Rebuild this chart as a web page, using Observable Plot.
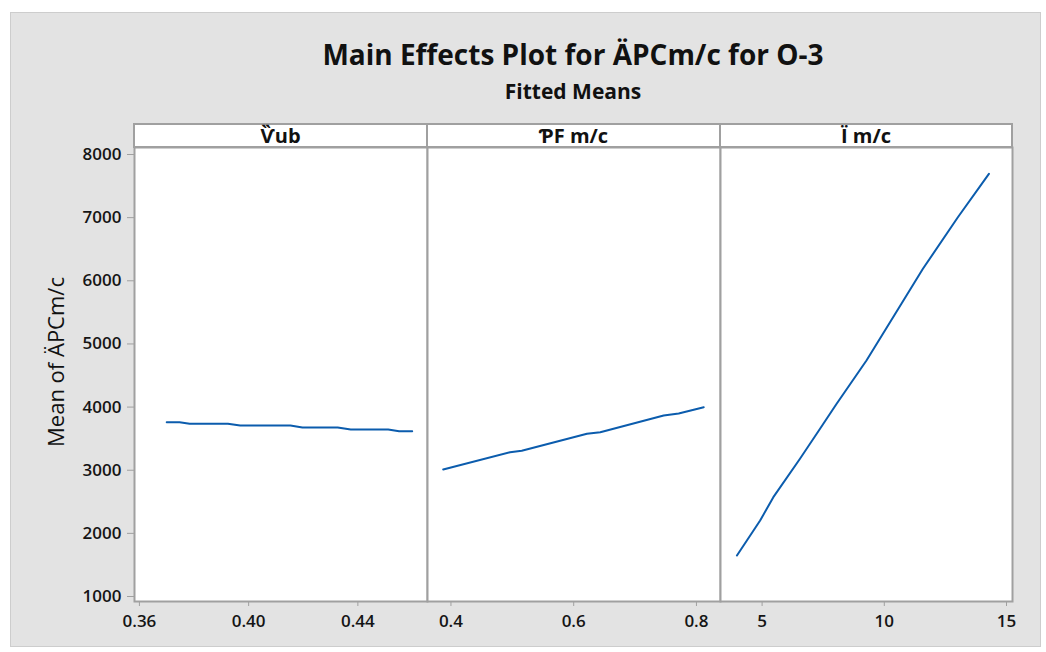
<!DOCTYPE html>
<html>
<head>
<meta charset="utf-8">
<script src="https://cdn.jsdelivr.net/npm/d3@7"></script>
<script src="https://cdn.jsdelivr.net/npm/@observablehq/plot@0.6"></script>
<style>
  html, body { margin: 0; padding: 0; background: #ffffff; width: 1046px; height: 652px; overflow: hidden; }
  body { position: relative; font-family: "Open Sans", "Noto Sans", "DejaVu Sans", sans-serif; color: #111; }
  .abs { position: absolute; }
  #bg { left: 10px; top: 12px; width: 1031px; height: 635px; background: #e3e3e3; border: 1px solid #cdcdcd; box-sizing: border-box; }
  #title { left: 134px; width: 878px; top: 38px; text-align: center; font-size: 28px; font-weight: 700; line-height: 32px; }
  #subtitle { left: 134px; width: 878px; top: 80px; text-align: center; font-size: 21px; font-weight: 700; line-height: 22px; }
  .strip { top: 123px; height: 25px; background: #fff; border: 2px solid #a0a0a0; box-sizing: border-box; text-align: center; font-size: 20px; font-weight: 700; line-height: 21px; }
  #ylabel { left: 55px; top: 362px; transform: translate(-50%, -50%) rotate(-90deg); white-space: nowrap; font-size: 22px; font-weight: 500; }
</style>
</head>
<body>
<div id="bg" class="abs"></div>
<div id="title" class="abs">Main Effects Plot for ÄPCm/c for O-3</div>
<div id="subtitle" class="abs">Fitted Means</div>
<div id="ylabel" class="abs">Mean of ÄPCm/c</div>
<div id="panels"></div>
<script>
// ---- data ----
const panelTitles = ["Ѷub", "ƤF m/c", "Ï m/c"];

const vubX = [0.3700, 0.3747, 0.3784, 0.3924, 0.3969, 0.4153, 0.4197, 0.4326, 0.4374, 0.4511, 0.4551, 0.4599];
const vubY = [3760, 3760, 3735, 3735, 3708, 3708, 3677, 3677, 3645, 3645, 3618, 3618];

const pfX = [0.3874, 0.4963, 0.5154, 0.6216, 0.6433, 0.7466, 0.7711, 0.8119];
const pfY = [3011, 3285, 3307, 3577, 3602, 3867, 3899, 3998];

const imX = [3.97, 4.92, 5.46, 6.55, 7.37, 8.05, 9.27, 10.70, 11.58, 13.01, 14.28];
const imY = [1649, 2204, 2573, 3181, 3656, 4052, 4738, 5636, 6190, 7007, 7694];

const xTicks1 = [0.36, 0.40, 0.44];
const xTicks2 = [0.4, 0.6, 0.8];
const xTicks3 = [5, 10, 15];
const yTicks = [1000, 2000, 3000, 4000, 5000, 6000, 7000, 8000];

// ---- layout ----
const bounds = [134, 427, 720, 1012];
const plotTop = 147, plotBottom = 601;
const yDomain = [921, 8111];
const lineColor = "#0b5cad";
const frameColor = "#a0a0a0";
const fontFamily = '"Open Sans", "Noto Sans", "DejaVu Sans", sans-serif';

const panels = [
  {xs: vubX, ys: vubY, domain: [0.3582, 0.4655], ticks: xTicks1, fmt: d3.format(".2f")},
  {xs: pfX, ys: pfY, domain: [0.3618, 0.8392], ticks: xTicks2, fmt: d3.format(".1f")},
  {xs: imX, ys: imY, domain: [3.298, 15.245], ticks: xTicks3, fmt: d3.format("d")}
];

const host = document.getElementById("panels");
panels.forEach((p, i) => {
  const data = p.xs.map((x, k) => ({x, y: p.ys[k]}));
  const left = bounds[i], right = bounds[i + 1];
  const mL = i === 0 ? left : 30;
  const mR = 30, mT = 10, mB = 45;
  const w = right - left;
  const marks = [
    Plot.frame({fill: "white", stroke: null}),
    Plot.line(data, {x: "x", y: "y", stroke: lineColor, strokeWidth: 2}),
    Plot.frame({stroke: frameColor, strokeWidth: 2}),
    Plot.axisX({ticks: p.ticks, tickFormat: p.fmt, tickSize: 5, tickPadding: 8, stroke: frameColor, fill: "#151515", label: null})
  ];
  if (i === 0) {
    marks.push(Plot.axisY({ticks: yTicks, tickFormat: d3.format("d"), tickSize: 7, tickPadding: 6, stroke: frameColor, fill: "#151515", label: null}));
  }
  const chart = Plot.plot({
    width: w + mL + mR,
    height: (plotBottom - plotTop) + mT + mB,
    marginLeft: mL, marginRight: mR, marginTop: mT, marginBottom: mB,
    style: {background: "transparent", fontFamily, fontSize: "17px", fontWeight: 600, color: "#151515", overflow: "visible"},
    x: {domain: p.domain, label: null},
    y: {domain: yDomain, label: null, axis: null},
    marks
  });
  const wrap = document.createElement("div");
  wrap.className = "abs";
  wrap.style.left = (left - mL) + "px";
  wrap.style.top = (plotTop - mT) + "px";
  wrap.appendChild(chart);
  host.appendChild(wrap);

  const strip = document.createElement("div");
  strip.className = "abs strip";
  strip.style.left = (left - 1) + "px";
  strip.style.width = (w + 2) + "px";
  strip.textContent = panelTitles[i];
  host.appendChild(strip);
});
</script>
</body>
</html>
